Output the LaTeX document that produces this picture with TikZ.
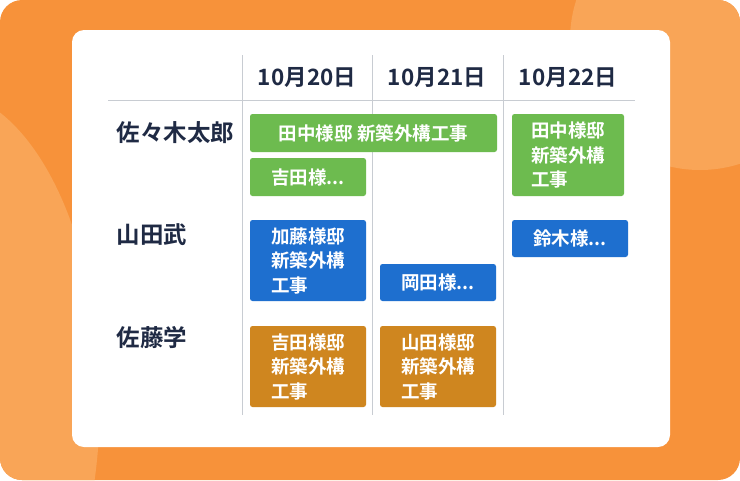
\documentclass[tikz,border=0pt]{standalone}
\usepackage{fontspec}
\newfontfamily\cjk{Noto Sans CJK JP}[BoldFont={Noto Sans CJK JP Bold}]
\begin{document}
\begin{tikzpicture}[x=1pt,y=-1pt,
  ev/.style={rounded corners=2pt,text=white,font=\cjk\bfseries\fontsize{18.5}{24.5}\selectfont,align=left,inner sep=0pt},
  nm/.style={anchor=west,text=navy,font=\cjk\bfseries\fontsize{23.5}{26}\selectfont},
  hd/.style={text=navy,font=\cjk\bfseries\fontsize{22.5}{26}\selectfont},
  grid/.style={draw=gline,line width=1pt}]
\definecolor{bgor}{HTML}{F7923A}
\definecolor{bglt}{HTML}{F9A557}
\definecolor{navy}{HTML}{1F2A44}
\definecolor{gline}{HTML}{C8CCD2}
\definecolor{gr}{HTML}{6DBB4F}
\definecolor{bl}{HTML}{1E6FCF}
\definecolor{og}{HTML}{CF861F}
\useasboundingbox (0,0) rectangle (740,480);
\fill[bgor,rounded corners=22pt] (0,0) rectangle (740,480);
\begin{scope}
\clip[rounded corners=22pt] (0,0) rectangle (740,480);
\fill[bglt] (700,40) circle (130);
\fill[bglt] (-60,400) ellipse (160 and 310);
\end{scope}
\fill[white,rounded corners=12pt] (72,30) rectangle (670,447);
\coordinate (h1) at (108,100); \coordinate (h2) at (635,100);
\draw[grid] (h1) -- (h2);
\foreach \x in {242,372,503} \draw[grid] (\x,55) -- (\x,415);
\node[hd] (d1) at (307,77) {10月20日};
\node[hd] (d2) at (437,77) {10月21日};
\node[hd] (d3) at (568,77) {10月22日};
\node[nm] (n1) at (113,133) {佐々木太郎};
\node[nm] (n2) at (113,235) {山田武};
\node[nm] (n3) at (113,338) {佐藤学};
\newcommand\evbox[6]{\fill[#1,rounded corners=2.5pt] (#2,#3) rectangle (#4,#5);
  \node[ev] at ({(#2+#4)/2},{(#3+#5)/2}) {#6};}
\evbox{gr}{250}{114}{497}{152}{田中様邸 新築外構工事}
\evbox{gr}{250}{158}{366}{196}{吉田様...}
\evbox{gr}{512}{114}{624}{196}{田中様邸\\新築外構\\工事}
\evbox{bl}{250}{220}{366}{301}{加藤様邸\\新築外構\\工事}
\evbox{bl}{380}{264}{496}{301}{岡田様...}
\evbox{bl}{512}{220}{628}{257}{鈴木様...}
\evbox{og}{250}{326}{366}{407}{吉田様邸\\新築外構\\工事}
\evbox{og}{380}{326}{496}{407}{山田様邸\\新築外構\\工事}
\end{tikzpicture}
\end{document}
